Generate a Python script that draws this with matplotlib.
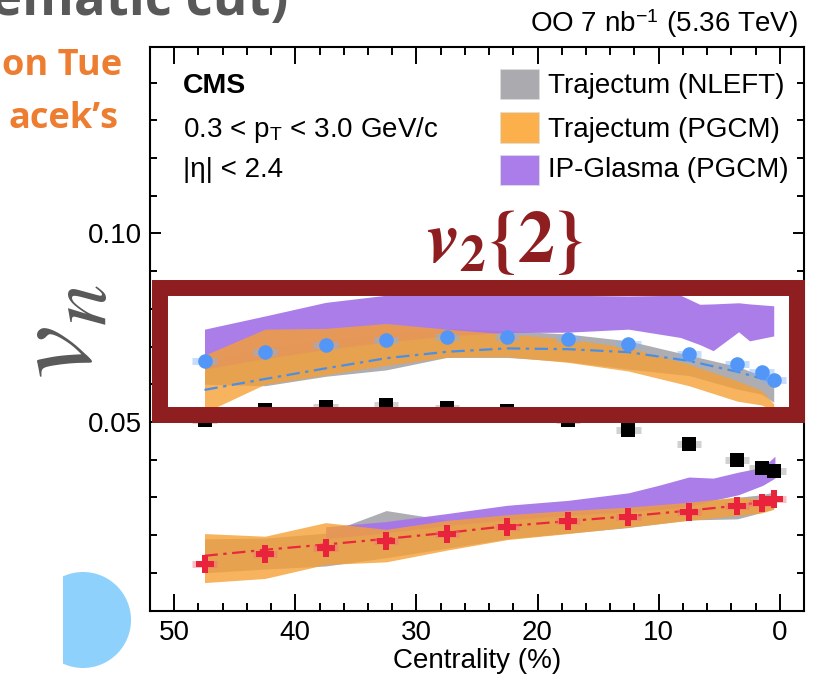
import matplotlib
matplotlib.use('Agg')
import matplotlib.pyplot as plt
from matplotlib.patches import Rectangle, Circle
from matplotlib.ticker import MultipleLocator, FixedLocator, FormatStrFormatter

plt.rcParams['font.family'] = ['Liberation Sans', 'DejaVu Sans']
plt.rcParams['mathtext.fontset'] = 'custom'
plt.rcParams['mathtext.rm'] = 'Liberation Sans'
plt.rcParams['mathtext.it'] = 'STIXGeneral:italic'
plt.rcParams['mathtext.bf'] = 'STIXGeneral:bold'
plt.rcParams['mathtext.sf'] = 'STIXGeneral:italic:bold'

# centrality bin centres (%)
cent = [47.5, 42.5, 37.5, 32.5, 27.5, 22.5, 17.5, 12.5, 7.5, 3.5, 1.5, 0.5]

# data
v22 = [0.0661, 0.0686, 0.0704, 0.0717, 0.0724, 0.0726, 0.0720, 0.0706, 0.0680, 0.0653, 0.0632, 0.0611]
v22_line = [0.0585, 0.0614, 0.0642, 0.0669, 0.0686, 0.0695, 0.0693, 0.0685, 0.0662, 0.0633, 0.0615, 0.0607]
v24 = [0.0505, 0.0532, 0.0540, 0.0545, 0.0538, 0.0529, 0.0505, 0.0478, 0.0442, 0.0400, 0.0378, 0.0370]
v32 = [0.0124, 0.0149, 0.0167, 0.0183, 0.0202, 0.0221, 0.0236, 0.0248, 0.0261, 0.0276, 0.0286, 0.0296]
v32_line = [0.0145, 0.0161, 0.0175, 0.0190, 0.0206, 0.0224, 0.0237, 0.0250, 0.0265, 0.0278, 0.0288, 0.0296]

# model bands
nleft_v2_lo = [0.0600, 0.0596, 0.0621, 0.0638, 0.0671, 0.0671, 0.0660, 0.0640, 0.0623, 0.0587, 0.0574, 0.0552]
nleft_v2_hi = [0.0660, 0.0700, 0.0720, 0.0735, 0.0748, 0.0742, 0.0733, 0.0715, 0.0677, 0.0647, 0.0623, 0.0614]
pgcm_v2_lo = [0.0525, 0.0600, 0.0625, 0.0650, 0.0672, 0.0673, 0.0658, 0.0635, 0.0596, 0.0555, 0.0545, 0.0530]
pgcm_v2_hi = [0.0677, 0.0746, 0.0748, 0.0761, 0.0746, 0.0733, 0.0720, 0.0697, 0.0653, 0.0609, 0.0583, 0.0548]
ipg_v2_x = [47.5, 42.5, 37.5, 32.5, 27.5, 22.5, 17.5, 12.5, 8.2, 6.6, 5.5, 3.4, 2.5, 0.5]
ipg_v2_lo = [0.0640, 0.0668, 0.0692, 0.0712, 0.0728, 0.0737, 0.0738, 0.0746, 0.0724, 0.0705, 0.0689, 0.0739, 0.0715, 0.0728]
ipg_v2_hi = [0.0746, 0.0781, 0.0817, 0.0836, 0.0845, 0.0842, 0.0836, 0.0834, 0.0836, 0.0812, 0.0813, 0.0816, 0.0813, 0.0808]

nleft_v3_lo = [0.0100, 0.0110, 0.0118, 0.0140, 0.0165, 0.0190, 0.0205, 0.0220, 0.0240, 0.0243, 0.0260, 0.0270]
nleft_v3_hi = [0.0190, 0.0192, 0.0205, 0.0265, 0.0240, 0.0252, 0.0260, 0.0270, 0.0285, 0.0300, 0.0307, 0.0314]
pgcm_v3_lo = [0.0074, 0.0085, 0.0122, 0.0129, 0.0160, 0.0188, 0.0204, 0.0221, 0.0239, 0.0252, 0.0259, 0.0268]
pgcm_v3_hi = [0.0204, 0.0197, 0.0233, 0.0215, 0.0239, 0.0254, 0.0265, 0.0274, 0.0287, 0.0301, 0.0296, 0.0305]
ipg_v3_x = [37.5, 32.5, 27.5, 22.5, 17.5, 12.5, 10.0, 7.5, 5.5, 3.4, 1.4, 0.4]
ipg_v3_lo = [0.0190, 0.0206, 0.0225, 0.0240, 0.0252, 0.0262, 0.0268, 0.0275, 0.0292, 0.0307, 0.0332, 0.0351]
ipg_v3_hi = [0.0222, 0.0236, 0.0257, 0.0279, 0.0292, 0.0312, 0.0332, 0.0354, 0.0351, 0.0367, 0.0380, 0.0409]

leg_labels = ['Trajectum (NLEFT)', 'Trajectum (PGCM)', 'IP-Glasma (PGCM)']
c_gray = '#A9A9AE'
c_orange = '#F5A035'
c_purple = '#A776E8'
leg_colors = ['#ABABAF', '#FBB04C', '#AB7DEB']

W, H = 818, 678
def fx(px):
    return px / W
def fy(py):
    return 1 - py / H

fig = plt.figure(figsize=(W / 100, H / 100), dpi=100)
ax = fig.add_axes([fx(150), fy(610.5), fx(804) - fx(150), fy(46.7) - fy(610.5)])

for lo, hi, xs, col, a, z in [(nleft_v2_lo, nleft_v2_hi, cent, c_gray, 0.95, 1),
                              (ipg_v2_lo, ipg_v2_hi, ipg_v2_x, c_purple, 0.95, 2),
                              (pgcm_v2_lo, pgcm_v2_hi, cent, c_orange, 0.8, 3),
                              (nleft_v3_lo, nleft_v3_hi, cent, c_gray, 0.95, 1),
                              (ipg_v3_lo, ipg_v3_hi, ipg_v3_x, c_purple, 0.95, 2),
                              (pgcm_v3_lo, pgcm_v3_hi, cent, c_orange, 0.8, 3)]:
    ax.fill_between(xs, lo, hi, color=col, alpha=a, lw=0, zorder=z)

ax.plot(cent, v22_line, color='#4A8FE7', lw=1.6, ls=(0, (6, 2.5, 1.5, 2.5)), zorder=4)
ax.plot(cent, v32_line, color='#E8283C', lw=1.6, ls=(0, (6, 2.5, 1.5, 2.5)), zorder=4)

ax.errorbar(cent, v22, xerr=1.0, fmt='none', ecolor='#7FB3FA', elinewidth=5, alpha=0.45, zorder=5)
ax.errorbar(cent, v24, xerr=1.0, fmt='none', ecolor='#999999', elinewidth=5, alpha=0.45, zorder=5)
ax.errorbar(cent, v32, xerr=1.0, fmt='none', ecolor='#F07080', elinewidth=5, alpha=0.45, zorder=5)

ax.plot(cent, v22, 'o', color='#5297F7', ms=10.5, mew=0, zorder=6)
ax.plot(cent, v24, 's', color='black', ms=10.5, mew=0, zorder=6)
ax.plot(cent, v32, 'P', color='#E8233B', ms=13, mew=0, zorder=6)

ax.set_xlim(52, -2)
ax.set_ylim(0.0, 0.1495)
ax.xaxis.set_major_locator(MultipleLocator(10))
ax.xaxis.set_minor_locator(MultipleLocator(2))
ax.yaxis.set_major_locator(FixedLocator([0.05, 0.10]))
ax.yaxis.set_minor_locator(FixedLocator([0.01, 0.02, 0.03, 0.04, 0.06, 0.07, 0.08, 0.09, 0.11, 0.12, 0.13, 0.14]))
ax.yaxis.set_major_formatter(FormatStrFormatter('%.2f'))
ax.tick_params(which='both', direction='in', top=True, right=True, width=1.4, colors='black')
ax.tick_params(axis='x', which='major', length=12, labelsize=20, pad=7)
ax.tick_params(axis='x', which='minor', length=6)
ax.tick_params(axis='y', which='major', length=8, labelsize=20, pad=6)
ax.tick_params(axis='y', which='minor', length=5)
for s in ax.spines.values():
    s.set_linewidth(1.5)

fig.text(fx(477), fy(661), 'Centrality (%)', ha='center', va='center', fontsize=20)
fig.text(fx(798), fy(32), r'OO 7 nb$^{-1}$ (5.36 TeV)', ha='right', va='baseline', fontsize=20)
fig.text(fx(183), fy(93), 'CMS', ha='left', va='baseline', fontsize=20.5, fontweight='bold')
fig.text(fx(183), fy(137), r'0.3 < p$_{\mathrm{T}}$ < 3.0 GeV/c', ha='left', va='baseline', fontsize=20)
fig.text(fx(183), fy(177), '|\u03b7| < 2.4', ha='left', va='baseline', fontsize=20)

for i, (lab, col) in enumerate(zip(leg_labels, leg_colors)):
    yc = [84, 127.5, 170][i]
    fig.add_artist(Rectangle((fx(500), fy(yc + 15)), fx(539) - fx(500), fy(yc - 15) - fy(yc + 15),
                             transform=fig.transFigure, fc=col, ec='#DDDDDD', lw=0.6))
    fig.text(fx(548), fy([93, 137, 177][i]), lab, ha='left', va='baseline', fontsize=20)

# slide overlay
fig.add_artist(Rectangle((fx(160), fy(415)), fx(797) - fx(160), fy(288) - fy(415),
                         transform=fig.transFigure, fill=False, ec='#8E1E20', lw=11.5,
                         joinstyle='miter', zorder=10))
fig.text(fx(505), fy(262), r'$\mathsf{v}_{\mathbf{2}}\mathbf{\{2\}}$', ha='center', va='baseline',
         fontsize=53, color='#8E1E20', zorder=11)
fig.text(fx(62), fy(332), r'$v_{n}$', ha='center', va='center', rotation=90,
         fontsize=86, color='#595959')
fig.text(fx(288), fy(15), 'ematic cut)', ha='right', va='baseline', fontsize=38,
         fontweight='bold', family='Open Sans', color='#595959')
fig.text(fx(122), fy(75), 'on Tue', ha='right', va='baseline', fontsize=26,
         fontweight='bold', family='Open Sans', color='#ED7D31')
fig.text(fx(118), fy(128), 'acek\u2019s', ha='right', va='baseline', fontsize=26,
         fontweight='bold', family='Open Sans', color='#ED7D31')

dot = Circle((0.83, (H - 620) / 100), 0.48, transform=fig.dpi_scale_trans, fc='#8ED1FC', ec='none')
fig.add_artist(dot)
dot.set_clip_path(Rectangle((0.63, 0), 2, 2, transform=fig.dpi_scale_trans))

fig.savefig('out.png', dpi=100)
